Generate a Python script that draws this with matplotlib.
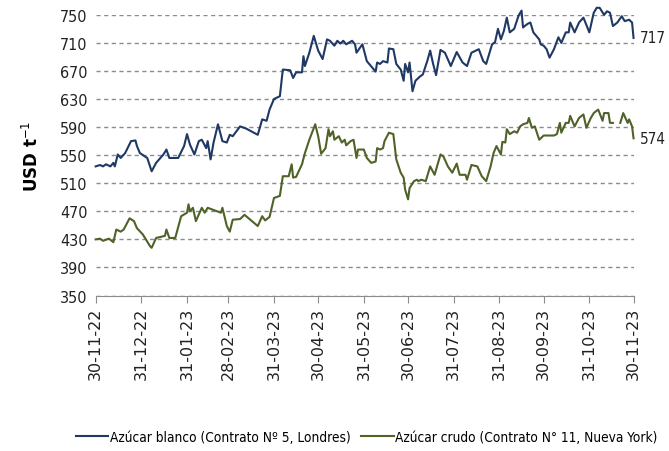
import numpy as np
import pandas as pd
import matplotlib
matplotlib.use('Agg')
import matplotlib.pyplot as plt
import matplotlib.dates as mdates

START = pd.Timestamp('2022-11-30')

# dias desde 30-11-22 y precio (USD/t)
BLANCO_DIAS = [0, 3, 5, 7, 10, 12, 13, 15, 17, 20, 24, 27, 28, 30, 35, 38, 41, 46, 48, 50,
               56, 60, 62, 64, 67, 70, 72, 75, 76, 78, 80, 83, 86, 89, 91, 93, 98, 102, 110, 113,
               116, 118, 121, 125, 127, 132, 134, 136, 140, 141, 142, 145, 148, 151, 154, 157,
               159, 162, 164, 166, 168, 170, 174, 176, 177, 181, 184, 190, 191, 193, 195, 198,
               199, 202, 204, 207, 209, 210, 212, 213, 215, 217, 220, 222, 225, 227, 229, 231,
               234, 237, 241, 245, 249, 252, 255, 260, 263, 265, 269, 271, 273, 275, 277, 279,
               281, 284, 287, 289, 290, 293, 295, 297, 301, 302, 304, 306, 308, 311, 314, 316,
               319, 321, 322, 325, 328, 331, 335, 338, 340, 342, 345, 347, 349, 351, 354, 357,
               359, 362, 364, 365]
BLANCO = [534, 536, 534, 537, 534, 539, 534, 551, 546, 553, 570, 571, 563, 553, 546, 527, 539, 551, 558, 546,
          546, 563, 580, 565, 551, 570, 572, 560, 570, 544, 568, 594, 570, 568, 579, 577, 591, 588, 579, 601,
          599, 615, 630, 634, 672, 671, 660, 668, 668, 691, 677, 696, 720, 699, 687, 715,
          713, 706, 713, 709, 713, 708, 713, 708, 696, 708, 684, 669, 682, 680, 684, 682,
          702, 701, 680, 672, 656, 680, 668, 682, 641, 656, 662, 665, 684, 699, 680, 664,
          700, 696, 677, 697, 682, 677, 696, 701, 684, 680, 708, 711, 730, 715, 727, 746,
          725, 730, 749, 756, 732, 737, 739, 725, 715, 708, 706, 701, 689, 701, 718, 710,
          725, 725, 739, 725, 739, 746, 725, 753, 760, 760, 750, 755, 753, 734, 739, 748,
          741, 743, 739, 717]

CRUDO_DIAS = [0, 3, 5, 9, 12, 14, 17, 19, 23, 26, 28, 32, 37, 38, 41, 45, 47, 48, 50, 54,
              58, 62, 63, 64, 66, 68, 72, 74, 76, 85, 86, 89, 91, 93, 98, 101, 106, 110, 113, 115,
              118, 121, 125, 127, 131, 133, 134, 136, 140, 142, 145, 149, 151, 153, 156, 158,
              159, 161, 162, 165, 167, 169, 170, 173, 175, 177, 178, 182, 184, 187, 190, 191,
              193, 195, 196, 199, 202, 204, 207, 209, 210, 212, 213, 216, 218, 219, 221, 224,
              227, 230, 234, 236, 239, 242, 245, 247, 251, 252, 255, 259, 262, 265, 268, 270,
              272, 275, 276, 278, 279, 281, 284, 286, 288, 290, 293, 294, 296, 298, 301, 304,
              306, 311, 313, 315, 316, 319, 321, 322, 325, 328, 331, 333, 336, 338, 341, 344,
              345, 348, 349, 351, 353, 356, 358, 361, 362, 364, 365]
CRUDO = [430, 431, 428, 431, 426, 444, 441, 444, 460, 456, 446, 437, 420, 418, 432, 434, 435, 444, 432, 432,
         463, 468, 480, 470, 475, 456, 475, 468, 475, 468, 475, 449, 441, 458, 459, 465, 456, 449, 463, 457,
         462, 489, 492, 520, 520, 537, 518, 519, 537, 553, 572, 594, 577, 552, 560, 587,
         577, 584, 572, 577, 568, 572, 564, 570, 572, 546, 558, 558, 546, 539, 541, 560,
         558, 560, 570, 582, 580, 544, 525, 518, 501, 487, 503, 513, 515, 513, 515, 513,
         534, 522, 551, 548, 534, 525, 538, 522, 522, 515, 536, 534, 520, 513, 534, 553,
         563, 551, 569, 568, 587, 580, 584, 582, 591, 594, 596, 603, 589, 591, 572, 578,
         578, 578, 580, 596, 582, 596, 596, 606, 591, 603, 608, 589, 603, 610, 615, 599,
         610, 610, 596, 596, np.nan, 596, 610, 596, 601, 591, 574]

TICK_FECHAS = ['2022-11-30', '2022-12-31', '2023-01-31', '2023-02-28', '2023-03-31', '2023-04-30',
               '2023-05-31', '2023-06-30', '2023-07-31', '2023-08-31', '2023-09-30', '2023-10-31',
               '2023-11-30']
Y_TICKS = [350, 390, 430, 470, 510, 550, 590, 630, 670, 710, 750]

AZUL = '#1F3864'
VERDE = '#4F6228'
NARROW = 'DejaVu Sans'

fx_blanco = START + pd.to_timedelta(BLANCO_DIAS, unit='D')
fx_crudo = START + pd.to_timedelta(CRUDO_DIAS, unit='D')
ticks = pd.to_datetime(TICK_FECHAS)

fig = plt.figure(figsize=(6.69, 4.52), dpi=100)
ax = fig.add_axes([0.143, 0.344, 0.804, 0.621])

ax.plot(fx_blanco, BLANCO, color=AZUL, lw=1.5, clip_on=False,
        label='Azúcar blanco (Contrato Nº 5, Londres)')
ax.plot(fx_crudo, CRUDO, color=VERDE, lw=1.5, clip_on=False,
        label='Azúcar crudo (Contrato N° 11, Nueva York)')

ax.set_ylim(350, 750)
ax.set_xlim(ticks[0], ticks[-1])
ax.set_yticks(Y_TICKS)
ax.set_xticks(ticks)
ax.xaxis.set_major_formatter(mdates.DateFormatter('%d-%m-%y'))
for lab in ax.get_yticklabels():
    lab.set_family(NARROW)
    lab.set_stretch('condensed')
    lab.set_fontsize(11.5)
    lab.set_color('#222222')
plt.setp(ax.get_xticklabels(), rotation=90, fontsize=11.5, color='#222222')

ax.grid(axis='y', linestyle=(0, (3, 2.5)), color='#8C8C8C', lw=1)
ax.tick_params(axis='y', length=0, pad=6)
ax.tick_params(axis='x', length=5, color='#8C8C8C', direction='out', pad=3)
for s in ['top', 'right', 'left']:
    ax.spines[s].set_visible(False)
ax.spines['bottom'].set_color('#8C8C8C')
ax.set_axisbelow(True)

ax.set_ylabel('USD t$^{-1}$', fontsize=12, fontweight='bold', labelpad=13)

for val in [717, 574]:
    ax.text(1.011, val, str(val), transform=ax.get_yaxis_transform(), va='center', ha='left',
            fontsize=11, family=NARROW, stretch='condensed', color='#222222')

fig.legend(loc='lower center', bbox_to_anchor=(0.548, -0.012), ncol=2, frameon=False,
           prop={'family': NARROW, 'stretch': 'condensed', 'size': 9.8},
           handlelength=2.4, handletextpad=0.1, columnspacing=0.8)

plt.savefig('out.png', dpi=100)
